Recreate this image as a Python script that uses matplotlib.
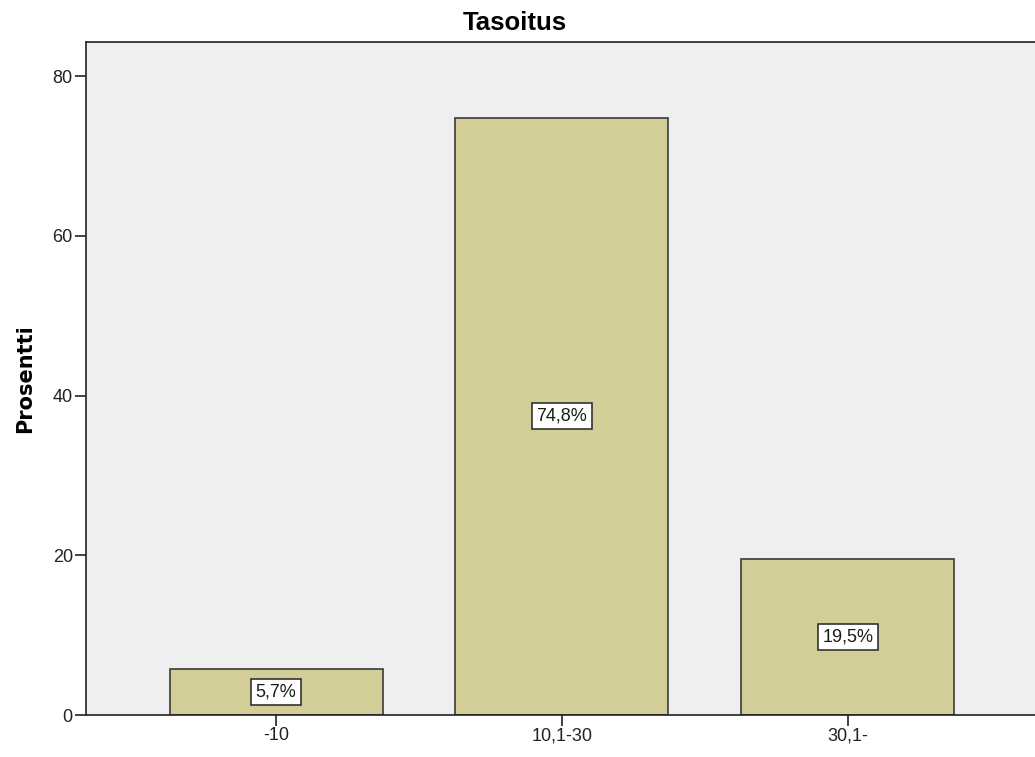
import numpy as np
import matplotlib.pyplot as plt

# Tasoitus-jakauma prosentteina
categories = ['-10', '10,1-30', '30,1-']
percents = [5.7, 74.8, 19.5]
yticks = [0, 20, 40, 60, 80]

plt.rcParams['font.family'] = ['Liberation Sans', 'DejaVu Sans']

fig = plt.figure(figsize=(10.35, 7.57), dpi=100)
ax = fig.add_axes([86 / 1035, (757 - 715) / 757, (1035 - 86) / 1035, (715 - 42) / 757])
ax.set_facecolor('#efefef')

x = np.arange(len(categories))
ax.bar(x, percents, width=0.745, color='#d3ce98', edgecolor='#3a3a3a', linewidth=1.2, zorder=2)

# arvolaatikot pylväiden keskelle
for xi, p in zip(x, percents):
    ax.text(xi, p / 2, f'{p:.1f}%'.replace('.', ','), ha='center', va='center', fontsize=13,
            color='#1a1a1a', zorder=3,
            bbox=dict(boxstyle='square,pad=0.25', facecolor='white', edgecolor='#333333', linewidth=1.2))

ax.set_xlim(-0.665, 2.655)
ax.set_ylim(0, 84.26)
ax.set_xticks(x)
ax.set_xticklabels(categories)
ax.set_yticks(yticks)
ax.tick_params(axis='both', direction='out', length=8, width=1.2, labelsize=13, colors='#222222')
ax.tick_params(axis='x', pad=1)
ax.tick_params(axis='y', pad=1.5)

for side in ['left', 'bottom', 'top']:
    ax.spines[side].set_linewidth(1.2)
    ax.spines[side].set_color('#222222')
ax.spines['right'].set_visible(False)

ax.set_title('Tasoitus', fontsize=18.5, fontweight='bold', pad=8.5, x=(515 - 86) / 949)
ax.set_ylabel('Prosentti', fontsize=15, fontweight='bold', family='DejaVu Sans', labelpad=12.5)

plt.savefig('out.png', dpi=100)
